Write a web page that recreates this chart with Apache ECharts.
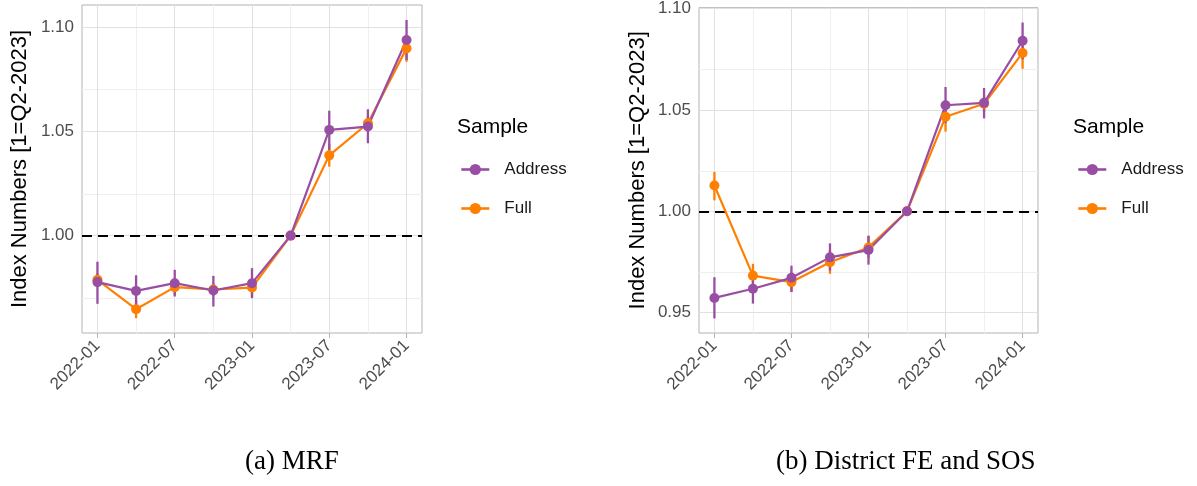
<!DOCTYPE html>
<html>
<head>
<meta charset="utf-8">
<title>Index numbers</title>
<script src="https://cdn.jsdelivr.net/npm/echarts@6/dist/echarts.min.js"></script>
<style>
  html, body { margin: 0; padding: 0; background: #fff; }
  #chart { width: 1197px; height: 486px; }
</style>
</head>
<body>
<div id="chart"></div>
<script>
// quarters (x index 0..8)
var quarters = ['2022-01', '2022-04', '2022-07', '2022-10', '2023-01', '2023-04', '2023-07', '2023-10', '2024-01'];
var xLabelIdx = [0, 2, 4, 6, 8];
var xMinorIdx = [1, 3, 5, 7];

// (a) MRF
var addrA    = [0.9777, 0.9735, 0.9772, 0.9737, 0.9772, 1.0000, 1.0507, 1.0523, 1.0938];
var addrALo  = [0.9673, 0.9660, 0.9708, 0.9660, 0.9700, 1.0000, 1.0411, 1.0443, 1.0842];
var addrAHi  = [0.9875, 0.9810, 0.9836, 0.9807, 0.9844, 1.0000, 1.0599, 1.0606, 1.1034];
var fullA    = [0.9788, 0.9647, 0.9753, 0.9742, 0.9751, 1.0000, 1.0385, 1.0539, 1.0898];
var fullALo  = [0.9755, 0.9604, 0.9715, 0.9710, 0.9705, 1.0000, 1.0331, 1.0500, 1.0834];
var fullAHi  = [0.9820, 0.9690, 0.9790, 0.9772, 0.9790, 1.0000, 1.0440, 1.0575, 1.0950];
var yTicksA  = [1.00, 1.05, 1.10];
var yMinorA  = [0.975, 1.025, 1.075];

// (b) District FE and SOS
var addrB    = [0.9573, 0.9618, 0.9672, 0.9773, 0.9809, 1.0000, 1.0523, 1.0535, 1.0841];
var addrBLo  = [0.9472, 0.9545, 0.9602, 0.9708, 0.9737, 1.0000, 1.0435, 1.0458, 1.0750];
var addrBHi  = [0.9675, 0.9695, 0.9732, 0.9842, 0.9879, 1.0000, 1.0613, 1.0608, 1.0931];
var fullB    = [1.0127, 0.9683, 0.9651, 0.9749, 0.9822, 1.0000, 1.0466, 1.0530, 1.0781];
var fullBLo  = [1.0054, 0.9635, 0.9602, 0.9692, 0.9770, 1.0000, 1.0393, 1.0490, 1.0703];
var fullBHi  = [1.0194, 0.9741, 0.9700, 0.9810, 0.9880, 1.0000, 1.0540, 1.0570, 1.0860];
var yTicksB  = [0.95, 1.00, 1.05, 1.10];
var yMinorB  = [0.975, 1.025, 1.075];

var refLine = 1.00;
var sampleNames = ['Address', 'Full'];

var FONT = 'Liberation Sans';
var PURPLE = '#984EA3';
var ORANGE = '#FF7F00';

function points(vals) {
    return vals.map(function (v, i) { return [i, v]; });
}

function bars(lo, hi) {
    return lo.map(function (l, i) { return [i, l, hi[i]]; });
}

function renderErrorBar(params, api) {
    var top = api.coord([api.value(0), api.value(2)]);
    var bottom = api.coord([api.value(0), api.value(1)]);
    return {
        type: 'line',
        shape: {x1: top[0], y1: top[1], x2: bottom[0], y2: bottom[1]},
        style: {stroke: api.visual('color'), lineWidth: 2.3}
    };
}

function gridLines(yMajor, yMinor) {
    var major = {color: '#e0e0e0', width: 1, type: 'solid'};
    var minor = {color: '#efefef', width: 1, type: 'solid'};
    var d = [];
    xMinorIdx.forEach(function (v) { d.push({xAxis: v, lineStyle: minor}); });
    yMinor.forEach(function (v) { d.push({yAxis: v, lineStyle: minor}); });
    xLabelIdx.forEach(function (v) { d.push({xAxis: v, lineStyle: major}); });
    yMajor.forEach(function (v) { d.push({yAxis: v, lineStyle: major}); });
    return d;
}

function makeXAxis(k) {
    return {
        type: 'value', gridIndex: k, min: -0.4, max: 8.4,
        axisLine: {show: false},
        splitLine: {show: false},
        axisTick: {show: true, length: 5, customValues: xLabelIdx, lineStyle: {color: '#b3b3b3'}},
        axisLabel: {
            customValues: xLabelIdx, rotate: 45, margin: 10,
            color: '#4d4d4d', fontSize: 17, fontFamily: FONT,
            formatter: function (v) { return quarters[Math.round(v)]; }
        }
    };
}

function makeYAxis(k, min, max, ticks, gap) {
    return {
        type: 'value', gridIndex: k, min: min, max: max,
        name: 'Index Numbers [1=Q2-2023]', nameLocation: 'middle', nameGap: gap,
        nameTextStyle: {color: '#000', fontSize: 22, fontFamily: FONT},
        axisLine: {show: false},
        splitLine: {show: false},
        axisTick: {show: true, length: 4, customValues: ticks, lineStyle: {color: '#b3b3b3'}},
        axisLabel: {
            customValues: ticks, margin: 8,
            color: '#4d4d4d', fontSize: 17, fontFamily: FONT,
            formatter: function (v) { return v.toFixed(2); }
        }
    };
}

function lineSeries(k, name, vals, color) {
    return {
        name: name, type: 'line', xAxisIndex: k, yAxisIndex: k, z: 3,
        data: points(vals), symbol: 'circle', symbolSize: 10,
        itemStyle: {color: color}, lineStyle: {color: color, width: 2.2}
    };
}

function barSeries(k, name, lo, hi, color) {
    return {
        name: name, type: 'custom', xAxisIndex: k, yAxisIndex: k, z: 2,
        renderItem: renderErrorBar, encode: {x: 0, y: [1, 2]},
        itemStyle: {color: color}, data: bars(lo, hi)
    };
}

function panelSeries(k, yMajor, yMinor, addr, addrLo, addrHi, full, fullLo, fullHi) {
    return [
        // line series first so the legend takes its line+dot icon
        lineSeries(k, 'Full', full, ORANGE),
        lineSeries(k, 'Address', addr, PURPLE),
        barSeries(k, 'Full', fullLo, fullHi, ORANGE),
        barSeries(k, 'Address', addrLo, addrHi, PURPLE),
        {
            type: 'line', xAxisIndex: k, yAxisIndex: k, data: [], silent: true, z: 1,
            markLine: {
                silent: true, z: 1, symbol: ['none', 'none'], label: {show: false},
                data: gridLines(yMajor, yMinor)
            }
        },
        {
            type: 'line', xAxisIndex: k, yAxisIndex: k, data: [], silent: true, z: 1,
            markLine: {
                silent: true, z: 1.5, symbol: ['none', 'none'], label: {show: false},
                lineStyle: {color: '#000', width: 2, type: [10, 6]},
                data: [{yAxis: refLine}]
            }
        }
    ];
}

function makeLegend(left) {
    return {
        orient: 'vertical', left: left, top: 161, padding: 0,
        itemWidth: 28, itemHeight: 14, itemGap: 22,
        data: sampleNames,
        lineStyle: {width: 2.6},
        textStyle: {color: '#1a1a1a', fontSize: 17, fontFamily: FONT, padding: [0, 0, 0, 10]}
    };
}

function titleText(text, left, top, size, family) {
    return {
        text: text, left: left, top: top, padding: 0,
        textStyle: {color: '#000', fontSize: size, fontWeight: 'normal', fontFamily: family}
    };
}

var chart = echarts.init(document.getElementById('chart'), null, {renderer: 'canvas'});

var option = {
    animation: false,
    backgroundColor: '#fff',
    title: [
        titleText('Sample', 457, 117, 21, FONT),
        titleText('Sample', 1073, 117, 21, FONT),
        titleText('(a) MRF', 245, 448, 27, 'Liberation Serif'),
        titleText('(b) District FE and SOS', 776, 448, 27, 'Liberation Serif')
    ],
    legend: [makeLegend(460), makeLegend(1077)],
    grid: [
        {left: 82, top: 5, width: 340, height: 328, show: true, borderColor: '#b3b3b3', borderWidth: 1, backgroundColor: '#fff'},
        {left: 699, top: 5, width: 339, height: 328, show: true, borderColor: '#b3b3b3', borderWidth: 1, backgroundColor: '#fff'}
    ],
    xAxis: [makeXAxis(0), makeXAxis(1)],
    yAxis: [
        makeYAxis(0, 0.9533, 1.1106, yTicksA, 51),
        makeYAxis(1, 0.9400, 1.1004, yTicksB, 50)
    ],
    series: panelSeries(0, yTicksA, yMinorA, addrA, addrALo, addrAHi, fullA, fullALo, fullAHi)
        .concat(panelSeries(1, yTicksB, yMinorB, addrB, addrBLo, addrBHi, fullB, fullBLo, fullBHi))
};

chart.setOption(option);
</script>
</body>
</html>
